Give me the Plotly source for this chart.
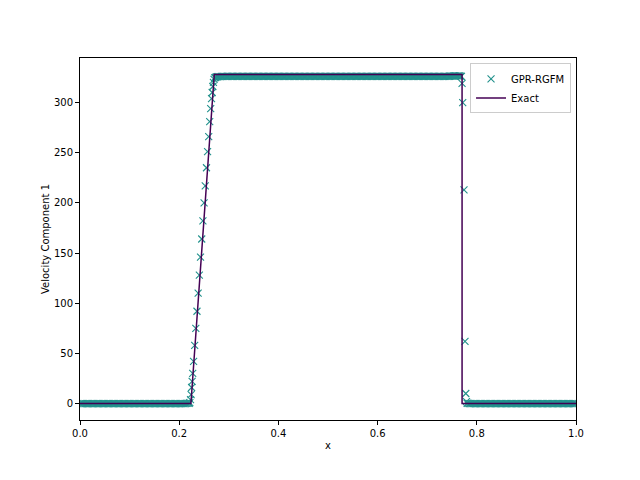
import plotly.graph_objects as go

# ---------------- data ----------------
# Exact solution (piecewise linear)
exact_x = [0.0, 0.2236, 0.2707, 0.7703, 0.7703, 1.0]
exact_v = [0.0, 0.0, 328.0, 328.0, 0.0, 0.0]

# GPR-RGFM samples, by region
gpr_x_left = [
    0.0000, 0.0025, 0.0050, 0.0075, 0.0100, 0.0125, 0.0150, 0.0175, 0.0200, 0.0225,
    0.0250, 0.0275, 0.0300, 0.0325, 0.0350, 0.0375, 0.0400, 0.0425, 0.0450, 0.0475,
    0.0500, 0.0525, 0.0550, 0.0575, 0.0600, 0.0625, 0.0650, 0.0675, 0.0700, 0.0725,
    0.0750, 0.0775, 0.0800, 0.0825, 0.0850, 0.0875, 0.0900, 0.0925, 0.0950, 0.0975,
    0.1000, 0.1025, 0.1050, 0.1075, 0.1100, 0.1125, 0.1150, 0.1175, 0.1200, 0.1225,
    0.1250, 0.1275, 0.1300, 0.1325, 0.1350, 0.1375, 0.1400, 0.1425, 0.1450, 0.1475,
    0.1500, 0.1525, 0.1550, 0.1575, 0.1600, 0.1625, 0.1650, 0.1675, 0.1700, 0.1725,
    0.1750, 0.1775, 0.1800, 0.1825, 0.1850, 0.1875, 0.1900, 0.1925, 0.1950, 0.1975,
    0.2000, 0.2025, 0.2050, 0.2075, 0.2100, 0.2125, 0.2150, 0.2175]
gpr_v_left = [
    0.0, 0.0, 0.0, 0.0, 0.0, 0.0, 0.0, 0.0, 0.0, 0.0,
    0.0, 0.0, 0.0, 0.0, 0.0, 0.0, 0.0, 0.0, 0.0, 0.0,
    0.0, 0.0, 0.0, 0.0, 0.0, 0.0, 0.0, 0.0, 0.0, 0.0,
    0.0, 0.0, 0.0, 0.0, 0.0, 0.0, 0.0, 0.0, 0.0, 0.0,
    0.0, 0.0, 0.0, 0.0, 0.0, 0.0, 0.0, 0.0, 0.0, 0.0,
    0.0, 0.0, 0.0, 0.0, 0.0, 0.0, 0.0, 0.0, 0.0, 0.0,
    0.0, 0.0, 0.0, 0.0, 0.0, 0.0, 0.0, 0.0, 0.0, 0.0,
    0.0, 0.0, 0.0, 0.0, 0.0, 0.0, 0.0, 0.0, 0.0, 0.0,
    0.0, 0.0, 0.0, 0.0, 0.0, 0.0, 0.1, 0.1]

gpr_x_ramp = [0.2200, 0.2215, 0.2228, 0.2240, 0.2250, 0.2260, 0.2272, 0.2290, 0.2312,
              0.2335, 0.2358, 0.2382, 0.2406, 0.2430, 0.2454, 0.2478, 0.2502, 0.2525,
              0.2550, 0.2572, 0.2595, 0.2615, 0.2635, 0.2652, 0.2665, 0.2678, 0.2690,
              0.2702, 0.2715, 0.2730, 0.2750]
gpr_v_ramp = [0.3, 1.0, 4.0, 9.0, 16.0, 22.0, 30.0, 42.0, 58.0,
              75.0, 92.0, 110.0, 128.0, 146.0, 164.0, 182.0, 200.0, 217.0,
              235.0, 251.0, 266.0, 281.0, 294.0, 304.0, 310.0, 316.0, 320.0,
              323.0, 324.5, 325.0, 325.5]

gpr_x_top = [
    0.2775, 0.2800, 0.2825, 0.2850, 0.2875, 0.2900, 0.2925, 0.2950, 0.2975, 0.3000,
    0.3025, 0.3050, 0.3075, 0.3100, 0.3125, 0.3150, 0.3175, 0.3200, 0.3225, 0.3250,
    0.3275, 0.3300, 0.3325, 0.3350, 0.3375, 0.3400, 0.3425, 0.3450, 0.3475, 0.3500,
    0.3525, 0.3550, 0.3575, 0.3600, 0.3625, 0.3650, 0.3675, 0.3700, 0.3725, 0.3750,
    0.3775, 0.3800, 0.3825, 0.3850, 0.3875, 0.3900, 0.3925, 0.3950, 0.3975, 0.4000,
    0.4025, 0.4050, 0.4075, 0.4100, 0.4125, 0.4150, 0.4175, 0.4200, 0.4225, 0.4250,
    0.4275, 0.4300, 0.4325, 0.4350, 0.4375, 0.4400, 0.4425, 0.4450, 0.4475, 0.4500,
    0.4525, 0.4550, 0.4575, 0.4600, 0.4625, 0.4650, 0.4675, 0.4700, 0.4725, 0.4750,
    0.4775, 0.4800, 0.4825, 0.4850, 0.4875, 0.4900, 0.4925, 0.4950, 0.4975, 0.5000,
    0.5025, 0.5050, 0.5075, 0.5100, 0.5125, 0.5150, 0.5175, 0.5200, 0.5225, 0.5250,
    0.5275, 0.5300, 0.5325, 0.5350, 0.5375, 0.5400, 0.5425, 0.5450, 0.5475, 0.5500,
    0.5525, 0.5550, 0.5575, 0.5600, 0.5625, 0.5650, 0.5675, 0.5700, 0.5725, 0.5750,
    0.5775, 0.5800, 0.5825, 0.5850, 0.5875, 0.5900, 0.5925, 0.5950, 0.5975, 0.6000,
    0.6025, 0.6050, 0.6075, 0.6100, 0.6125, 0.6150, 0.6175, 0.6200, 0.6225, 0.6250,
    0.6275, 0.6300, 0.6325, 0.6350, 0.6375, 0.6400, 0.6425, 0.6450, 0.6475, 0.6500,
    0.6525, 0.6550, 0.6575, 0.6600, 0.6625, 0.6650, 0.6675, 0.6700, 0.6725, 0.6750,
    0.6775, 0.6800, 0.6825, 0.6850, 0.6875, 0.6900, 0.6925, 0.6950, 0.6975, 0.7000,
    0.7025, 0.7050, 0.7075, 0.7100, 0.7125, 0.7150, 0.7175, 0.7200, 0.7225, 0.7250,
    0.7275, 0.7300, 0.7325, 0.7350, 0.7375, 0.7400, 0.7425, 0.7450, 0.7475, 0.7500,
    0.7525, 0.7550, 0.7575, 0.7600, 0.7625, 0.7650, 0.7675]
gpr_v_top = [
    325.7, 325.8, 325.9, 326.0, 326.0, 326.0, 326.1, 326.0, 326.0, 326.0,
    326.0, 326.0, 326.1, 326.0, 326.0, 326.0, 326.0, 326.0, 326.0, 326.1,
    326.0, 326.0, 326.0, 326.0, 326.0, 326.1, 326.0, 326.0, 326.0, 326.0,
    326.0, 326.0, 326.1, 326.0, 326.0, 326.0, 326.0, 326.0, 326.0, 326.1,
    326.0, 326.0, 326.0, 326.0, 326.0, 326.1, 326.0, 326.0, 326.0, 326.0,
    326.0, 326.0, 326.1, 326.0, 326.0, 326.0, 326.0, 326.0, 326.0, 326.1,
    326.0, 326.0, 326.0, 326.0, 326.0, 326.1, 326.0, 326.0, 326.0, 326.0,
    326.0, 326.0, 326.1, 326.0, 326.0, 326.0, 326.0, 326.0, 326.0, 326.1,
    326.0, 326.0, 326.0, 326.0, 326.0, 326.1, 326.0, 326.0, 326.0, 326.0,
    326.0, 326.0, 326.1, 326.0, 326.0, 326.0, 326.0, 326.0, 326.0, 326.1,
    326.0, 326.0, 326.0, 326.0, 326.0, 326.1, 326.0, 326.0, 326.0, 326.0,
    326.0, 326.0, 326.1, 326.0, 326.0, 326.0, 326.0, 326.0, 326.0, 326.1,
    326.0, 326.0, 326.0, 326.0, 326.0, 326.1, 326.0, 326.0, 326.0, 326.0,
    326.0, 326.0, 326.1, 326.0, 326.0, 326.0, 326.0, 326.0, 326.0, 326.1,
    326.0, 326.0, 326.0, 326.0, 326.0, 326.1, 326.0, 326.0, 326.0, 326.0,
    326.0, 326.0, 326.1, 326.0, 326.0, 326.0, 326.0, 326.0, 326.0, 326.1,
    326.0, 326.0, 326.0, 326.0, 326.0, 326.1, 326.0, 326.0, 326.0, 326.0,
    326.0, 326.0, 326.1, 326.0, 326.0, 326.0, 326.0, 326.0, 326.0, 326.1,
    326.0, 326.0, 326.0, 326.0, 326.0, 326.1, 326.1, 326.2, 326.3, 326.4,
    326.5, 326.6, 326.6, 326.6, 326.6, 326.5, 326.4]

gpr_x_drop = [0.7690, 0.7703, 0.7716, 0.7742, 0.7762, 0.7778, 0.7792, 0.7805]
gpr_v_drop = [326.0, 319.0, 300.0, 213.0, 62.0, 10.0, 2.0, 0.3]

gpr_x_right = [
    0.7825, 0.7850, 0.7875, 0.7900, 0.7925, 0.7950, 0.7975, 0.8000, 0.8025, 0.8050,
    0.8075, 0.8100, 0.8125, 0.8150, 0.8175, 0.8200, 0.8225, 0.8250, 0.8275, 0.8300,
    0.8325, 0.8350, 0.8375, 0.8400, 0.8425, 0.8450, 0.8475, 0.8500, 0.8525, 0.8550,
    0.8575, 0.8600, 0.8625, 0.8650, 0.8675, 0.8700, 0.8725, 0.8750, 0.8775, 0.8800,
    0.8825, 0.8850, 0.8875, 0.8900, 0.8925, 0.8950, 0.8975, 0.9000, 0.9025, 0.9050,
    0.9075, 0.9100, 0.9125, 0.9150, 0.9175, 0.9200, 0.9225, 0.9250, 0.9275, 0.9300,
    0.9325, 0.9350, 0.9375, 0.9400, 0.9425, 0.9450, 0.9475, 0.9500, 0.9525, 0.9550,
    0.9575, 0.9600, 0.9625, 0.9650, 0.9675, 0.9700, 0.9725, 0.9750, 0.9775, 0.9800,
    0.9825, 0.9850, 0.9875, 0.9900, 0.9925, 0.9950, 0.9975, 1.0000]
gpr_v_right = [
    0.1, 0.0, 0.0, 0.0, 0.0, 0.0, 0.0, 0.0, 0.0, 0.0,
    0.0, 0.0, 0.0, 0.0, 0.0, 0.0, 0.0, 0.0, 0.0, 0.0,
    0.0, 0.0, 0.0, 0.0, 0.0, 0.0, 0.0, 0.0, 0.0, 0.0,
    0.0, 0.0, 0.0, 0.0, 0.0, 0.0, 0.0, 0.0, 0.0, 0.0,
    0.0, 0.0, 0.0, 0.0, 0.0, 0.0, 0.0, 0.0, 0.0, 0.0,
    0.0, 0.0, 0.0, 0.0, 0.0, 0.0, 0.0, 0.0, 0.0, 0.0,
    0.0, 0.0, 0.0, 0.0, 0.0, 0.0, 0.0, 0.0, 0.0, 0.0,
    0.0, 0.0, 0.0, 0.0, 0.0, 0.0, 0.0, 0.0, 0.0, 0.0,
    0.0, 0.0, 0.0, 0.0, 0.0, 0.0, 0.0, 0.0]

x_ticks = [0.0, 0.2, 0.4, 0.6, 0.8, 1.0]
x_tick_labels = ["0.0", "0.2", "0.4", "0.6", "0.8", "1.0"]
y_ticks = [0, 50, 100, 150, 200, 250, 300]
y_tick_labels = ["0", "50", "100", "150", "200", "250", "300"]

# ---------------- figure ----------------
gpr_x = gpr_x_left + gpr_x_ramp + gpr_x_top + gpr_x_drop + gpr_x_right
gpr_v = gpr_v_left + gpr_v_ramp + gpr_v_top + gpr_v_drop + gpr_v_right

TEAL = "#21918c"
PURPLE = "#440154"
FONT = "DejaVu Sans"

fig = go.Figure()
fig.add_trace(go.Scatter(
    x=gpr_x, y=gpr_v, mode="markers", name="GPR-RGFM",
    marker=dict(symbol="x-thin", size=7, color=TEAL,
                line=dict(color=TEAL, width=1.1)),
))
fig.add_trace(go.Scatter(
    x=exact_x, y=exact_v, mode="lines", name="Exact",
    line=dict(color=PURPLE, width=1.5),
))

axis_common = dict(
    showline=True, linecolor="black", linewidth=1, mirror=True,
    ticks="outside", ticklen=4, tickwidth=1, tickcolor="black",
    showgrid=False, zeroline=False, automargin=False,
    tickfont=dict(family=FONT, size=10, color="black"),
)

fig.update_xaxes(
    range=[0, 1], tickvals=x_ticks, ticktext=x_tick_labels,
    title=dict(text="x", font=dict(family=FONT, size=10, color="black"), standoff=3),
    **axis_common,
)
fig.update_yaxes(
    range=[-16.4, 344.4], tickvals=y_ticks, ticktext=y_tick_labels,
    title=dict(text="Velocity Component 1", font=dict(family=FONT, size=10, color="black"), standoff=2),
    **axis_common,
)

fig.update_layout(
    width=640, height=480,
    margin=dict(l=72, r=72, t=50, b=68),
    paper_bgcolor="white", plot_bgcolor="white",
    font=dict(family=FONT, size=10, color="black"),
    showlegend=True,
    legend=dict(
        x=0.99, y=0.985, xanchor="right", yanchor="top",
        bgcolor="rgba(255,255,255,0.8)", bordercolor="#cccccc", borderwidth=1,
        font=dict(family=FONT, size=10, color="black"),
        tracegroupgap=0, itemwidth=30,
    ),
)

fig.write_html("out.html")
